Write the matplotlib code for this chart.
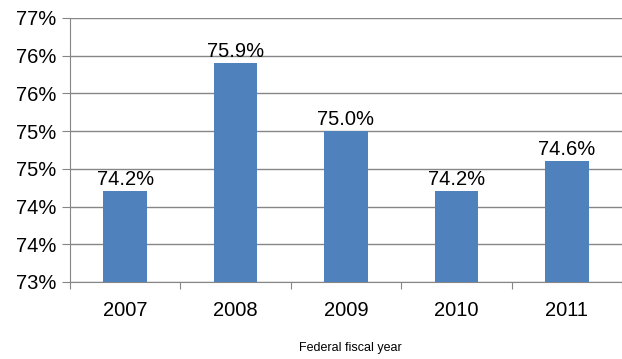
import math

import matplotlib
matplotlib.use("Agg")
import matplotlib.pyplot as plt
from matplotlib.ticker import FuncFormatter, MultipleLocator

years = ["2007", "2008", "2009", "2010", "2011"]
rates = [74.2, 75.9, 75.0, 74.2, 74.6]
bar_labels = ["74.2%", "75.9%", "75.0%", "74.2%", "74.6%"]

plt.rcParams["font.family"] = ["Liberation Sans", "DejaVu Sans"]

fig = plt.figure(figsize=(6.22, 3.59), dpi=100)
ax = fig.add_axes([0.1125, 0.2145, 0.8875, 0.7355])

x = list(range(len(years)))
bars = ax.bar(x, rates, width=0.395, color="#4F81BD", zorder=3)
for b, lab in zip(bars, bar_labels):
    ax.annotate(lab, (b.get_x() + b.get_width() / 2, b.get_height()),
                xytext=(0, 1.5), textcoords="offset points",
                ha="center", va="bottom", fontsize=14.5, zorder=4)

ax.set_ylim(73, 76.5)
ax.set_xlim(-0.5, len(years) - 0.5)
ax.yaxis.set_major_locator(MultipleLocator(0.5))
# Excel-style half-up rounding, hence the repeated labels
ax.yaxis.set_major_formatter(FuncFormatter(lambda v, _: f"{math.floor(v + 0.5 + 1e-9)}%"))

ax.set_xticks([i + 0.5 for i in range(-1, len(years))])
ax.set_xticklabels([])
ax.set_xticks(x, minor=True)
ax.set_xticklabels(years, minor=True)
ax.tick_params(axis="x", which="minor", length=0, labelsize=14.5, pad=14)
ax.tick_params(axis="x", which="major", length=5, color="#868686")
ax.tick_params(axis="y", length=6, color="#868686", labelsize=14.5, pad=4)

ax.grid(axis="y", color="#868686", linewidth=1, zorder=0)
for s in ["top", "right"]:
    ax.spines[s].set_visible(False)
for s in ["left", "bottom"]:
    ax.spines[s].set_color("#868686")
ax.spines["left"].set_zorder(5)

fig.text(0.5635, 0.03, "Federal fiscal year", ha="center", va="center", fontsize=9)

plt.savefig("out.png", dpi=100)
